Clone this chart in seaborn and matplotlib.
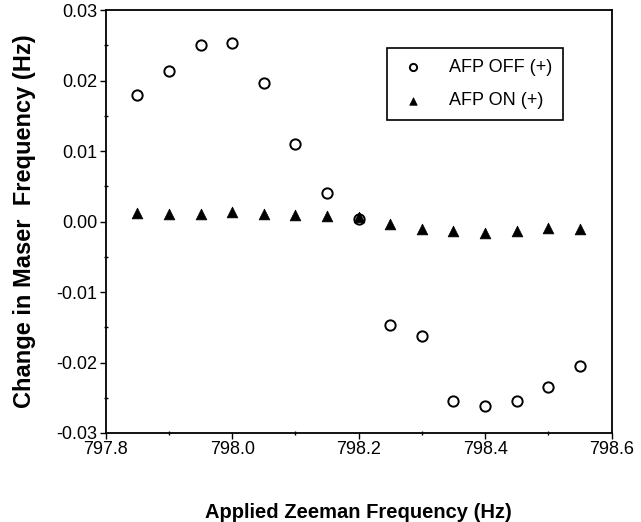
import matplotlib
matplotlib.use("Agg")
import matplotlib.pyplot as plt
import seaborn as sns
import pandas as pd
from matplotlib.ticker import MultipleLocator

# Applied Zeeman frequency (Hz)
zeeman = [797.85, 797.90, 797.95, 798.00, 798.05, 798.10, 798.15, 798.20,
          798.25, 798.30, 798.35, 798.40, 798.45, 798.50, 798.55]
# Change in maser frequency (Hz)
afp_off = [0.0180, 0.0213, 0.0250, 0.0254, 0.0197, 0.0110, 0.0040, 0.0003,
           -0.0147, -0.0162, -0.0255, -0.0262, -0.0255, -0.0235, -0.0205]
afp_on = [0.0012, 0.0011, 0.0011, 0.0014, 0.0011, 0.0010, 0.0008, 0.0007,
          -0.0003, -0.0011, -0.0013, -0.0016, -0.0013, -0.0009, -0.0011]

df = pd.DataFrame({"zeeman": zeeman * 2,
                   "shift": afp_off + afp_on,
                   "series": ["AFP OFF (+)"] * len(zeeman) + ["AFP ON (+)"] * len(zeeman)})

sns.set_style("ticks")
plt.rcParams["font.family"] = ["Liberation Sans", "DejaVu Sans"]
plt.rcParams["text.color"] = "black"
plt.rcParams["axes.labelcolor"] = "black"
plt.rcParams["xtick.color"] = "black"
plt.rcParams["ytick.color"] = "black"

fig = plt.figure(figsize=(6.41, 5.22), dpi=100)
ax = fig.add_axes([0.165, 0.1705, 0.789, 0.810])

sns.scatterplot(data=df[df.series == "AFP OFF (+)"], x="zeeman", y="shift", ax=ax,
                marker="o", s=55, facecolor="white", edgecolor="black", linewidth=1.4,
                label="AFP OFF (+)", zorder=2)
sns.scatterplot(data=df[df.series == "AFP ON (+)"], x="zeeman", y="shift", ax=ax,
                marker="^", s=60, color="black", edgecolor="black", linewidth=0.5,
                label="AFP ON (+)", zorder=3)

ax.set_xlim(797.8, 798.6)
ax.set_ylim(-0.03, 0.03)
ax.xaxis.set_major_locator(MultipleLocator(0.2))
ax.xaxis.set_minor_locator(MultipleLocator(0.1))
ax.yaxis.set_major_locator(MultipleLocator(0.01))
ax.yaxis.set_minor_locator(MultipleLocator(0.005))
ax.xaxis.set_major_formatter(lambda v, p: f"{v:.1f}")
ax.yaxis.set_major_formatter(lambda v, p: f"{v:.2f}")
ax.tick_params(which="both", labelsize=13, width=1, top=False, right=False)
ax.tick_params(which="major", direction="out", length=4, pad=2)
ax.tick_params(which="minor", direction="inout", length=3)
for sp in ax.spines.values():
    sp.set_visible(True)
    sp.set_linewidth(1.3)
    sp.set_color("black")

ax.set_xlabel("Applied Zeeman Frequency (Hz)", fontsize=14.5, fontweight="bold", labelpad=32)
ax.set_ylabel("Change in Maser  Frequency (Hz)", fontsize=17, fontweight="bold",
              labelpad=15)

leg = ax.legend(loc="upper left", bbox_to_anchor=(0.557, 0.910), borderaxespad=0,
                fontsize=13, frameon=True, fancybox=False, edgecolor="black",
                borderpad=0.6, labelspacing=0.9, handletextpad=1.2, handlelength=1.6,
                markerscale=0.7)
leg.get_frame().set_linewidth(1.2)
leg.get_frame().set_alpha(1)

fig.savefig("out.png", dpi=100)
